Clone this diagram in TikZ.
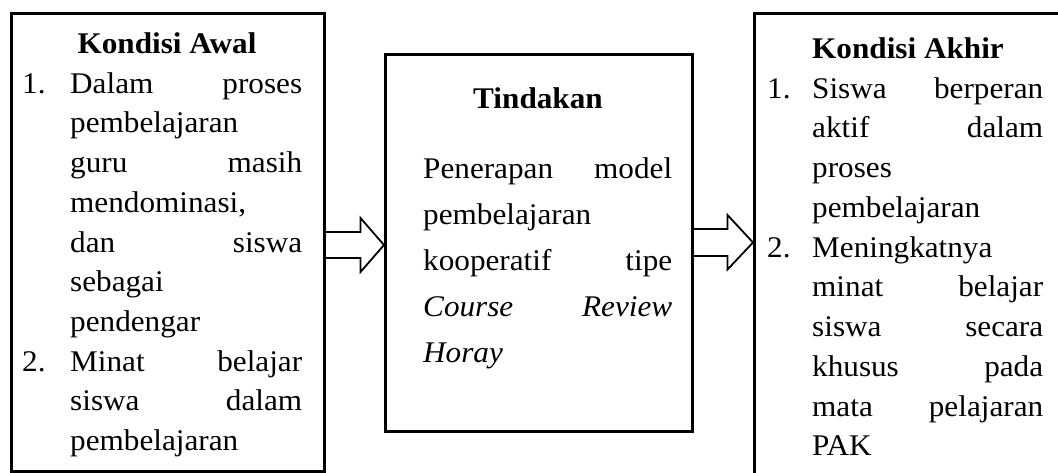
\documentclass[tikz,border=0pt]{standalone}
\usepackage{fontspec}
\setmainfont{Liberation Serif}[FakeStretch=1.04]
\usetikzlibrary{calc}
\newcommand{\bodyfont}{\fontsize{30}{39.7}\selectfont}
\newcommand{\midfont}{\fontsize{30}{46}\selectfont}
\begin{document}
\begin{tikzpicture}[x=1pt,y=-1pt,
  box/.style={draw, line width=2.5pt, inner sep=0pt, anchor=north west},
  ttl/.style={inner sep=0pt, anchor=base, font=\bodyfont\bfseries},
  num/.style={inner sep=0pt, anchor=base west, font=\bodyfont},
  body/.style={inner sep=0pt, anchor=north west, align=left, font=\bodyfont},
  midbody/.style={inner sep=0pt, anchor=north west, align=left, font=\midfont},
  blockarrow/.style={draw, line width=1.8pt, line join=miter}]
\useasboundingbox (0,0) rectangle (1058,472);
\clip (0,0) rectangle (1058,472);
\fill[white] (0,0) rectangle (1058,472);
% boxes
\node[box, minimum width=313pt, minimum height=458pt] (awal) at (10,12) {};
\node[box, minimum width=307pt, minimum height=377pt] (tindakan) at (384,53) {};
\node[box, minimum width=311pt, minimum height=480pt] (akhir) at (753,12) {};
% left box text
\node[ttl] (t1) at (167,53) {Kondisi Awal};
\node[num] (n11) at (22,93) {1.};
\node[body, text width=232pt] (b11) at (70,{93-27.79}) {\strut Dalam\hfill proses\\
pembelajaran\\
guru\hfill masih\\
mendominasi,\\
dan\hfill siswa\\
sebagai\\
pendengar};
\node[num] (n12) at (22,371) {2.};
\node[body, text width=232pt] (b12) at (70,{371-27.79}) {\strut Minat\hfill belajar\\
siswa\hfill dalam\\
pembelajaran};
% middle box text
\node[ttl] (t2) at (538,108) {Tindakan};
\node[midbody, text width=249pt] (b2) at (423,{178-32.2}) {\strut Penerapan\hfill model\\
pembelajaran\\
kooperatif\hfill tipe\\
\textit{Course}\hfill\textit{Review}\\
\textit{Horay}};
% right box text
\node[ttl, anchor=base west] (t3) at (812,58) {Kondisi Akhir};
\node[num] (n31) at (767,98) {1.};
\node[body, text width=231pt] (b31) at (812,{98-27.79}) {\strut Siswa\hfill berperan\\
aktif\hfill dalam\\
proses\\
pembelajaran};
\node[num] (n32) at (767,257) {2.};
\node[body, text width=231pt] (b32) at (812,{257-27.79}) {\strut Meningkatnya\\
minat\hfill belajar\\
siswa\hfill secara\\
khusus\hfill pada\\
mata\hfill pelajaran\\
PAK};
% block arrows
\coordinate (a1) at (awal.east |- 0,245);
\coordinate (a2) at (tindakan.east |- 0,242.5);
\draw[blockarrow] ($(a1)+(0,-13)$) -- ++(35,0) -- ++(0,-14)
  -- (tindakan.west |- a1) -- ($(a1)+(35,27)$) -- ++(0,-14) -- ($(a1)+(0,13)$);
\draw[blockarrow] ($(a2)+(0,-13.5)$) -- ++(34,0) -- ++(0,-14)
  -- (akhir.west |- a2) -- ($(a2)+(34,27)$) -- ++(0,-13.5) -- ($(a2)+(0,13.5)$);
\end{tikzpicture}
\end{document}
